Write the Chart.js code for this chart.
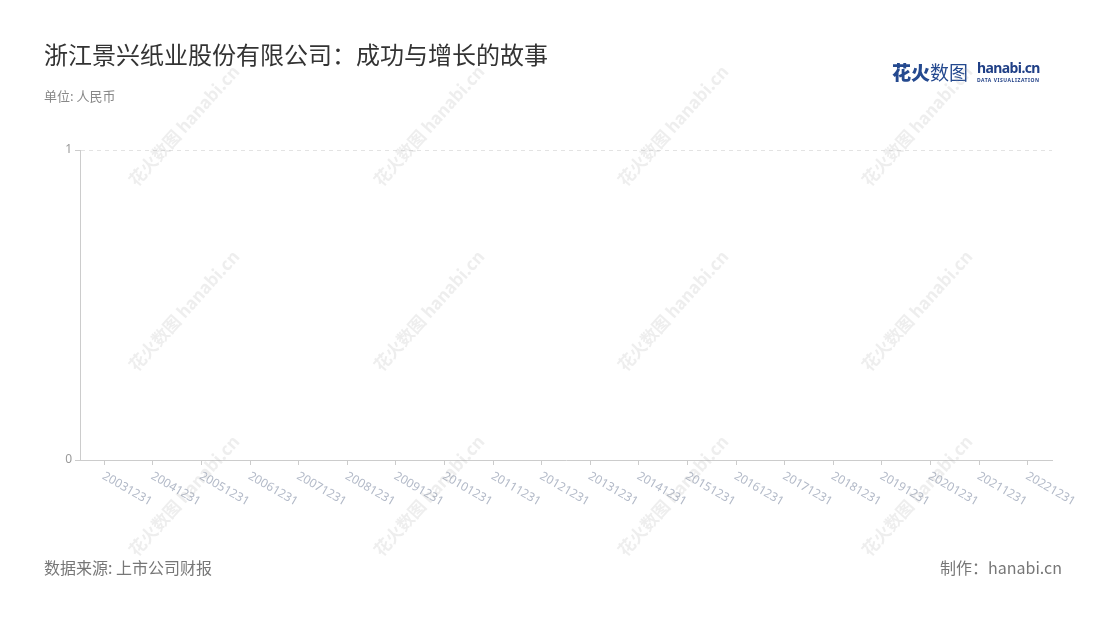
<!DOCTYPE html>
<html>
<head>
<meta charset="utf-8">
<script src="https://cdn.jsdelivr.net/npm/chart.js@4"></script>
<style>
  body { margin: 0; background: #fff; font-family: "Noto Sans", "Noto Sans CJK SC", sans-serif; }
  #wrap { position: relative; width: 1100px; height: 620px; overflow: hidden; }
  #chart { position: absolute; left: 0; top: 0; }
  .title { position: absolute; left: 44px; top: 36px; font-size: 24px; color: #333; font-family: "Noto Sans CJK SC", sans-serif; }
  .sub { position: absolute; left: 44px; top: 86px; font-size: 13px; color: #888; font-family: "Noto Sans CJK SC", sans-serif; }
  .src { position: absolute; left: 44px; top: 555px; font-size: 16px; color: #777; font-family: "Noto Sans CJK SC", sans-serif; }
  .by { position: absolute; right: 38px; top: 555px; font-size: 16px; color: #777; font-family: "Noto Sans CJK SC", sans-serif; }
  .logo { position: absolute; left: 892px; top: 58px; width: 150px; height: 30px; white-space: nowrap; }
  .logo .cn { position: absolute; left: 0; top: 0; font-size: 19px; font-family: "Noto Sans CJK SC", sans-serif; color: #24498f; }
  .logo .cn b { font-weight: 900; }
  .logo .en { position: absolute; left: 85px; top: 0px; font: bold 14px "Noto Sans", sans-serif; color: #1f3f86; letter-spacing: -0.6px; }
  .logo .dv { position: absolute; left: 85px; top: 19px; font: bold 5px "Noto Sans", sans-serif; color: #1f3f86; letter-spacing: 0.55px; }
  .wm { position: absolute; font-size: 17px; font-family: "Noto Sans CJK SC", sans-serif; color: rgba(160,160,160,0.18);
        transform: translate(-50%, -50%) rotate(-48deg); white-space: nowrap; pointer-events: none; font-weight: bold; }
</style>
</head>
<body>
<div id="wrap">
  <canvas id="chart" width="1100" height="620"></canvas>
  <div class="title">浙江景兴纸业股份有限公司：成功与增长的故事</div>
  <div class="sub">单位: 人民币</div>
  <div class="src">数据来源: 上市公司财报</div>
  <div class="by">制作：hanabi.cn</div>
  <div class="logo"><span class="cn"><b>花火</b>数图</span><span class="en">hanabi.cn</span><span class="dv">DATA VISUALIZATION</span></div>
</div>
<script>
// 报告期
const dates = ['20031231', '20041231', '20051231', '20061231', '20071231', '20081231', '20091231',
  '20101231', '20111231', '20121231', '20131231', '20141231', '20151231', '20161231', '20171231',
  '20181231', '20191231', '20201231', '20211231', '20221231'];
// 图中没有任何数值
const values = [null, null, null, null, null, null, null, null, null, null,
  null, null, null, null, null, null, null, null, null, null];
const yTicks = [0, 1];

// watermarks
const wmX = [183, 428, 672, 916];
const wmY = [125, 310, 495];
const wrap = document.getElementById('wrap');
wmY.forEach(y => wmX.forEach(x => {
  const d = document.createElement('div');
  d.className = 'wm';
  d.style.left = x + 'px';
  d.style.top = y + 'px';
  d.textContent = '花火数图 hanabi.cn';
  wrap.appendChild(d);
}));

// rotated date labels, text running down-right from each tick
const xLabels = {
  id: 'xLabels',
  afterDraw(chart) {
    const { ctx, scales: { x } } = chart;
    ctx.save();
    ctx.font = '12px "Noto Sans"';
    ctx.fillStyle = '#b3bac8';
    ctx.textAlign = 'left';
    ctx.textBaseline = 'top';
    dates.forEach((d, i) => {
      ctx.save();
      ctx.translate(x.getPixelForValue(i) + 2, x.top + 10);
      ctx.rotate(Math.PI / 6);
      ctx.fillText(d, 0, 0);
      ctx.restore();
    });
    ctx.restore();
  }
};

new Chart(document.getElementById('chart'), {
  type: 'line',
  data: {
    labels: dates,
    datasets: [{ label: '营业收入', data: values, borderColor: '#5470c6' }]
  },
  options: {
    responsive: false,
    animation: false,
    layout: { padding: { left: 44, right: 48, top: 150, bottom: 155 } },
    plugins: { legend: { display: false }, tooltip: { enabled: false } },
    scales: {
      x: {
        offset: true,
        grid: { offset: false, drawOnChartArea: false, tickLength: 5, tickColor: '#ccc' },
        border: { color: '#ccc' },
        ticks: { display: false },
        afterFit: s => { s.height = 5; }
      },
      y: {
        min: yTicks[0],
        max: yTicks[1],
        ticks: { stepSize: 1, color: '#999', padding: 3, font: { size: 12, family: 'Noto Sans' } },
        grid: {
          tickLength: 5,
          color: c => c.tick && c.tick.value === 0 ? 'rgba(0,0,0,0)' : '#e3e3e3',
          tickColor: '#ccc'
        },
        border: { color: '#ccc', dash: [4, 4] },
        afterFit: s => { s.width = 36; }
      }
    }
  },
  plugins: [xLabels]
});
</script>
</body>
</html>
